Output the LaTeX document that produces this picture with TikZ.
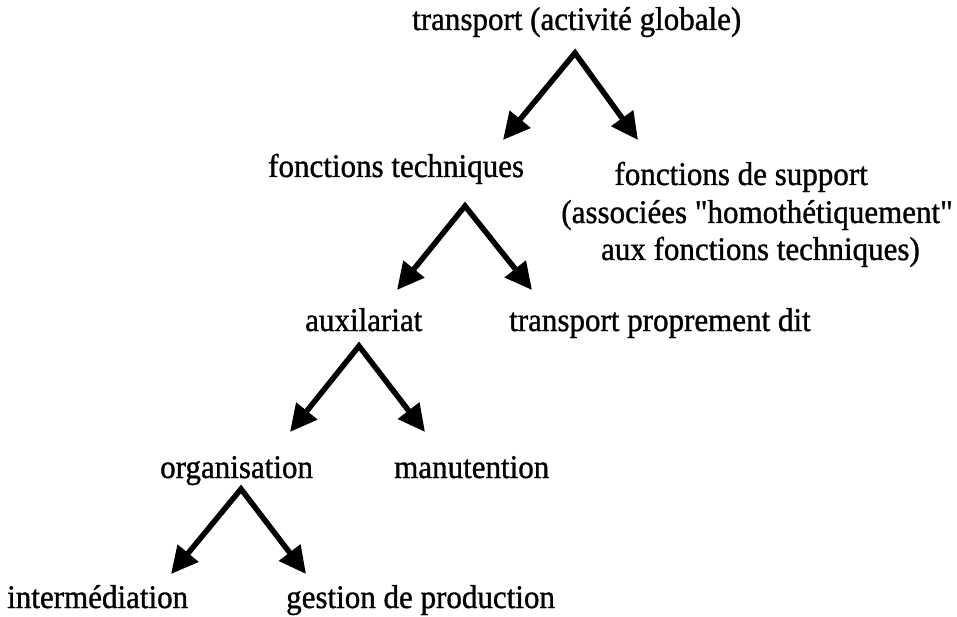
\documentclass[tikz,border=0pt]{standalone}
\usepackage{fontspec}
\setmainfont{Liberation Serif}[FakeStretch=0.94, FakeBold=1, Ligatures=TeXOff]
\usetikzlibrary{arrows.meta}
\begin{document}
\begin{tikzpicture}[x=1pt,y=-1pt,
  lbl/.style={inner sep=0pt, anchor=base west, font=\fontsize{33}{40}\selectfont},
  rlbl/.style={lbl, anchor=base east},
  fork/.style={line width=5.5pt, line join=miter, miter limit=20,
    {Triangle[length=27pt,width=26pt]}-{Triangle[length=27pt,width=26pt]}}]
\useasboundingbox (0,0) rectangle (957,617);
\fill[white] (0,0) rectangle (957,617);
\node[lbl] (top) at (412,30) {transport (activité globale)};
\node[lbl] (tech) at (268,177) {fonctions techniques};
\node[rlbl] (sup1) at (868,185) {fonctions de support};
\node[rlbl] (sup2) at (953,223) {(associées "homothétiquement"};
\node[rlbl] (sup3) at (920,260) {aux fonctions techniques)};
\node[lbl] (aux) at (305,331) {auxilariat};
\node[lbl] (tpd) at (509,331) {transport proprement dit};
\node[lbl] (org) at (160,478) {organisation};
\node[lbl] (man) at (394,478) {manutention};
\node[lbl] (int) at (7,608) {intermédiation};
\node[lbl] (ges) at (286,608) {gestion de production};
% forks
\coordinate (a1) at (575,53);  \coordinate (l1) at (503,140); \coordinate (r1) at (638,140);
\coordinate (a2) at (465,206); \coordinate (l2) at (397,290); \coordinate (r2) at (532,290);
\coordinate (a3) at (359,346); \coordinate (l3) at (290,432); \coordinate (r3) at (425,432);
\coordinate (a4) at (241,489); \coordinate (l4) at (171,574); \coordinate (r4) at (306,574);
\draw[fork] (l1) -- (a1) -- (r1);
\draw[fork] (l2) -- (a2) -- (r2);
\draw[fork] (l3) -- (a3) -- (r3);
\draw[fork] (l4) -- (a4) -- (r4);
\end{tikzpicture}
\end{document}
